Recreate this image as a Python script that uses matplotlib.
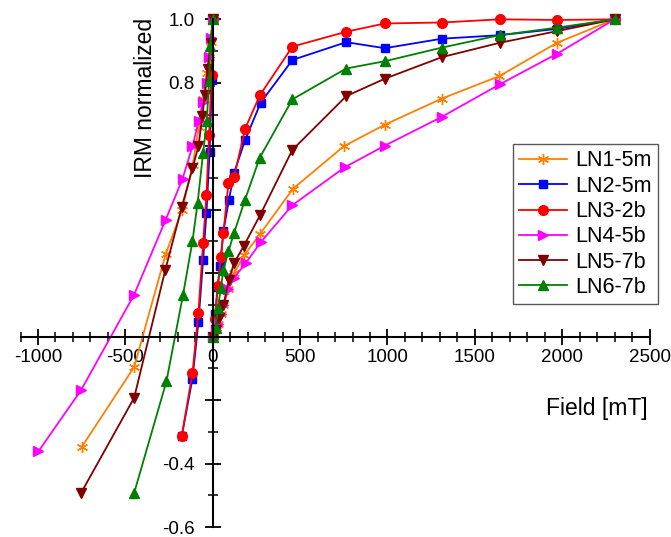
import numpy as np
import matplotlib
matplotlib.use("Agg")
import matplotlib.pyplot as plt
from matplotlib.ticker import MultipleLocator, FixedLocator, FixedFormatter

plt.rcParams['font.family'] = ['Liberation Sans', 'DejaVu Sans']
plt.rcParams['axes.unicode_minus'] = False

# series names / colours
names = ["LN1-5m", "LN2-5m", "LN3-2b", "LN4-5b", "LN5-7b", "LN6-7b"]
colors = ["#ff8000", "#0000ff", "#ff0000", "#ff00ff", "#800000", "#008000"]
markers = [(6, 2, 0), "s", "o", ">", "v", "^"]
msizes = [8, 6, 7, 7.5, 7.5, 7.5]

# IRM acquisition (forward field, mT) and normalized IRM
ln1_fx = [0, 17, 30, 46, 61, 90, 122, 179, 269, 459, 750, 985, 1310, 1640, 1970, 2300]
ln1_fy = [0.0, 0.02, 0.04, 0.07, 0.10, 0.15, 0.20, 0.256, 0.322, 0.466, 0.600, 0.668, 0.750, 0.821, 0.926, 1.0]
ln2_fx = [0, 15, 27, 42, 61, 93, 122, 185, 274, 456, 764, 985, 1312, 1642, 1972, 2300]
ln2_fy = [0.0, 0.07, 0.157, 0.222, 0.332, 0.432, 0.516, 0.619, 0.737, 0.872, 0.928, 0.909, 0.939, 0.950, 0.970, 1.0]
ln3_fx = [0, 11, 30, 46, 61, 90, 122, 185, 270, 456, 764, 985, 1312, 1642, 1972, 2300]
ln3_fy = [0.0, 0.054, 0.16, 0.25, 0.327, 0.485, 0.503, 0.655, 0.761, 0.914, 0.961, 0.987, 0.99, 1.0, 0.998, 1.0]
ln4_fx = [0, 17, 30, 46, 61, 90, 122, 189, 274, 455, 756, 985, 1312, 1642, 1972, 2300]
ln4_fy = [0.0, 0.02, 0.04, 0.07, 0.10, 0.15, 0.185, 0.232, 0.297, 0.414, 0.534, 0.602, 0.693, 0.795, 0.892, 1.0]
ln5_fx = [0, 17, 36, 61, 93, 122, 177, 270, 455, 764, 985, 1312, 1642, 1972, 2300]
ln5_fy = [0.0, 0.022, 0.059, 0.10, 0.18, 0.232, 0.285, 0.382, 0.588, 0.758, 0.813, 0.881, 0.926, 0.963, 1.0]
ln6_fx = [0, 17, 30, 46, 61, 90, 122, 185, 269, 456, 764, 985, 1312, 1642, 1972, 2300]
ln6_fy = [0.0, 0.028, 0.09, 0.154, 0.209, 0.269, 0.327, 0.432, 0.564, 0.748, 0.845, 0.868, 0.911, 0.950, 0.974, 1.0]

# backfield (negative field, mT)
ln1_bx = [0, -10, -20, -35, -55, -80, -115, -175, -270, -450, -750]
ln1_by = [1.0, 0.93, 0.88, 0.83, 0.75, 0.66, 0.54, 0.40, 0.259, -0.096, -0.348]
ln2_bx = [0, -5, -18, -36, -55, -82, -116, -177]
ln2_by = [1.0, 0.81, 0.581, 0.39, 0.243, 0.045, -0.132, -0.312]
ln3_bx = [0, -7, -21, -36, -55, -82, -116, -177]
ln3_by = [1.0, 0.826, 0.635, 0.446, 0.296, 0.075, -0.115, -0.312]
ln4_bx = [0, -10, -20, -35, -55, -80, -116, -173, -269, -450, -754, -998]
ln4_by = [1.0, 0.94, 0.88, 0.80, 0.74, 0.68, 0.60, 0.497, 0.369, 0.132, -0.169, -0.362]
ln5_bx = [0, -11, -30, -46, -59, -82, -116, -177, -272, -450, -754]
ln5_by = [1.0, 0.926, 0.842, 0.763, 0.695, 0.60, 0.53, 0.409, 0.209, -0.193, -0.493]
ln6_bx = [0, -15, -21, -34, -55, -87, -116, -170, -265, -450]
ln6_by = [1.0, 0.916, 0.805, 0.68, 0.58, 0.42, 0.301, 0.132, -0.141, -0.493]

fwd = [(ln1_fx, ln1_fy), (ln2_fx, ln2_fy), (ln3_fx, ln3_fy),
       (ln4_fx, ln4_fy), (ln5_fx, ln5_fy), (ln6_fx, ln6_fy)]
back = [(ln1_bx, ln1_by), (ln2_bx, ln2_by), (ln3_bx, ln3_by),
        (ln4_bx, ln4_by), (ln5_bx, ln5_by), (ln6_bx, ln6_by)]

ytick_vals = [-0.6, -0.4, -0.2, 0.0, 0.2, 0.4, 0.6, 0.8, 1.0]
ytick_text = ["-0.6", "-0.4", "", "", "", "", "", "0.8", "1.0"]

fig = plt.figure(figsize=(6.71, 5.37), dpi=100)
ax = fig.add_axes([0.0306, 0.0186, 0.9375, 0.9454])

handles = []
for i in range(len(names)):
    style = dict(color=colors[i], marker=markers[i], markersize=msizes[i],
                 lw=1.3, clip_on=False)
    h, = ax.plot(*fwd[i], label=names[i], **style)
    ax.plot(*back[i], **style)
    handles.append(h)

ax.set_xlim(-1100, 2500)
ax.set_ylim(-0.6, 1.0)

for s in ["top", "right"]:
    ax.spines[s].set_visible(False)
ax.spines["left"].set_position(("data", 0))
ax.spines["bottom"].set_position(("data", 0))
ax.spines["left"].set_linewidth(1.5)
ax.spines["bottom"].set_linewidth(1.5)

ax.xaxis.set_major_locator(MultipleLocator(500))
ax.xaxis.set_minor_locator(MultipleLocator(100))
ax.yaxis.set_major_locator(FixedLocator(ytick_vals))
ax.yaxis.set_major_formatter(FixedFormatter(ytick_text))
ax.yaxis.set_minor_locator(MultipleLocator(0.1))
ax.tick_params(which="major", direction="inout", length=12, width=1.3, labelsize=13.5)
ax.tick_params(which="minor", direction="inout", length=6.5, width=1.1)
ax.tick_params(axis="x", pad=3)
ax.tick_params(axis="y", pad=7)

fig.text(145 / 671, 1 - 98 / 537, "IRM normalized", rotation=90,
         ha="center", va="center", fontsize=16.5)
fig.text(648 / 671, 1 - 408 / 537, "Field [mT]", ha="right", va="center",
         fontsize=16.5)

leg = ax.legend(handles=handles, loc="upper left",
                bbox_to_anchor=(513 / 671, 1 - 144 / 537),
                bbox_transform=fig.transFigure, fontsize=15.5,
                fancybox=False, framealpha=1, edgecolor="0.35",
                handlelength=2.2, handletextpad=0.4, labelspacing=0.2,
                borderpad=0.3, borderaxespad=0)
leg.get_frame().set_linewidth(1.0)

fig.savefig("out.png", dpi=100)
